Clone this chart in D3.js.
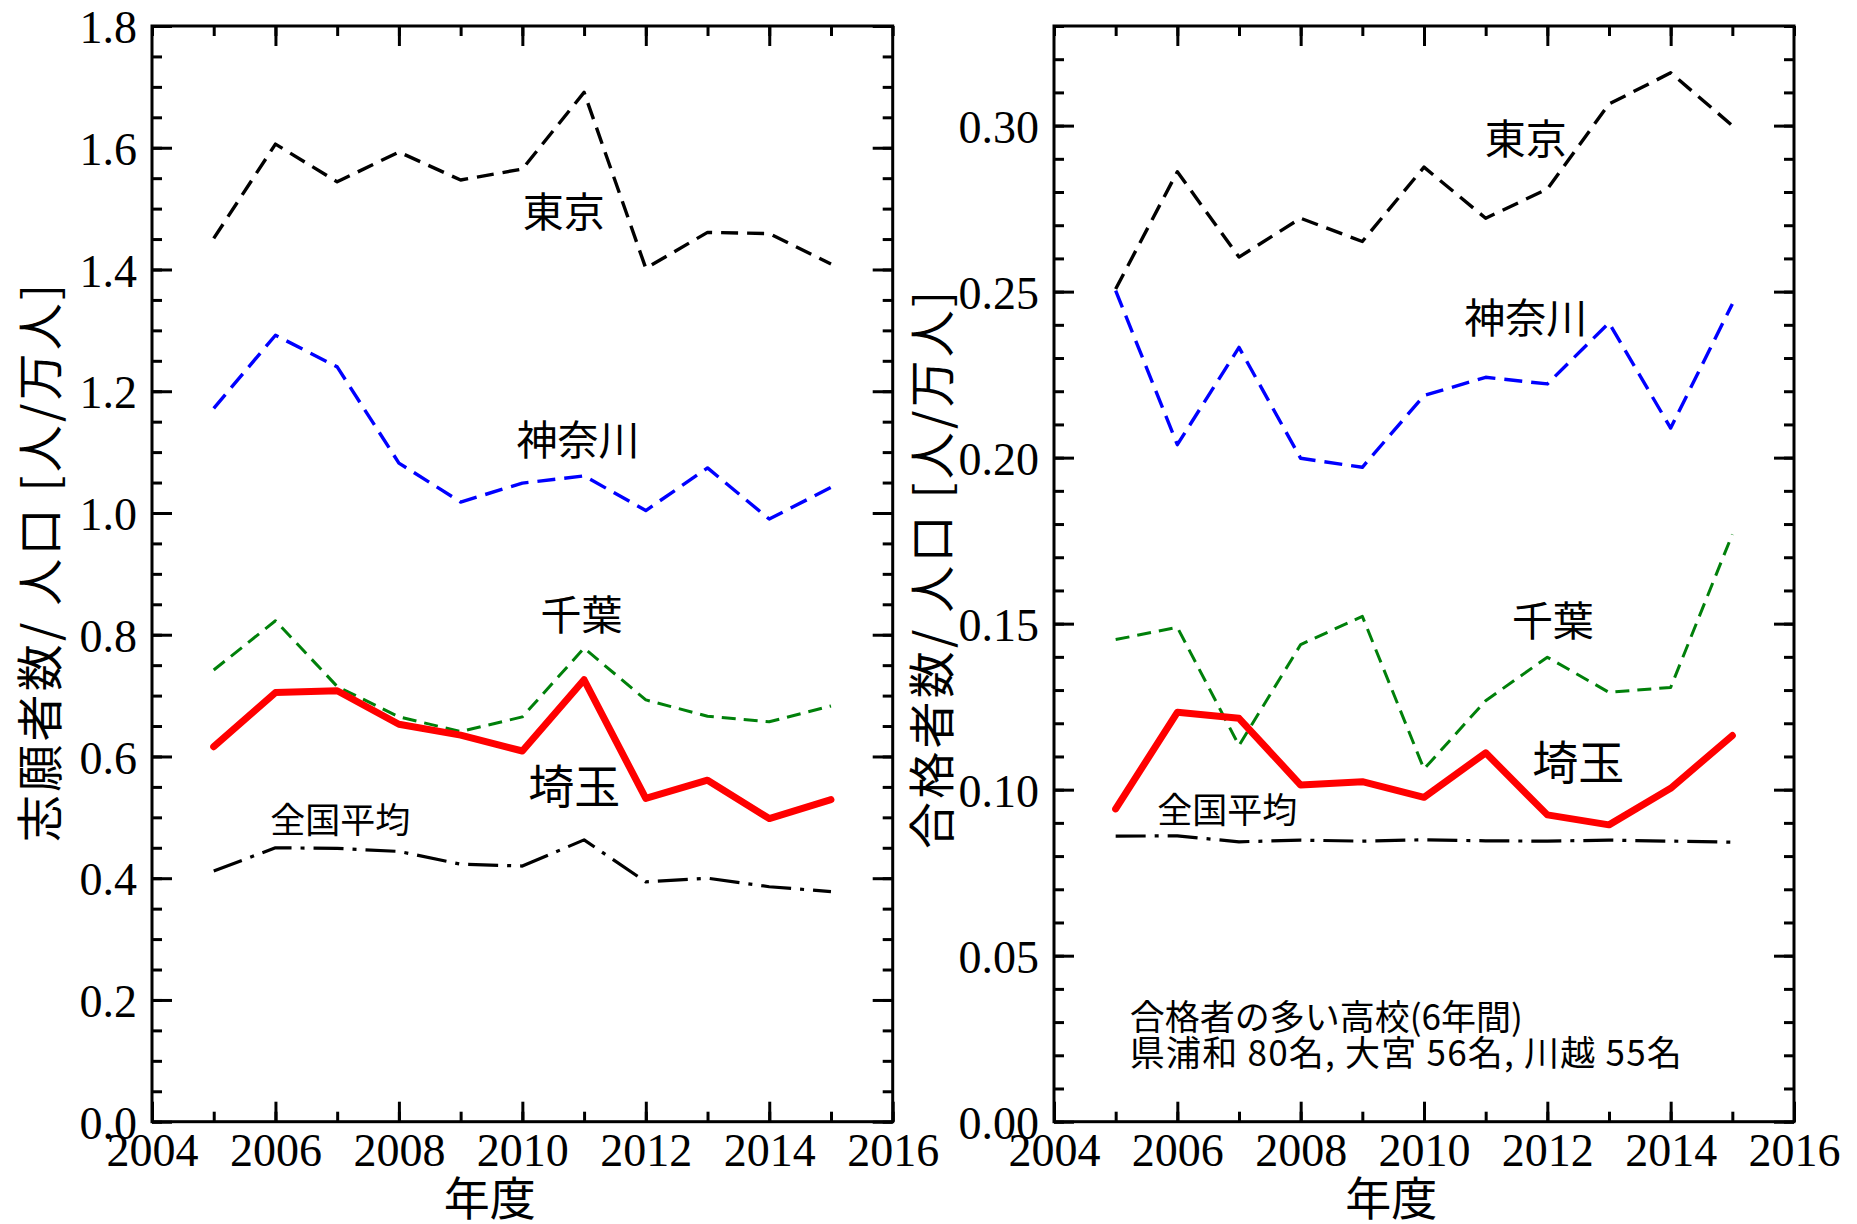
<!DOCTYPE html>
<html>
<head>
<meta charset="utf-8">
<script src="https://cdn.jsdelivr.net/npm/d3@7/dist/d3.min.js"></script>
<style>
body{margin:0;background:#fff;}
svg{display:block;}
</style>
</head>
<body>
<svg class="chart"></svg>
<script>
// years on the x axis
var years = [2005,2006,2007,2008,2009,2010,2011,2012,2013,2014,2015];

// left: applicants per 10,000 people
var appTokyo    = [1.451,1.606,1.544,1.593,1.547,1.565,1.691,1.402,1.461,1.459,1.409];
var appKanagawa = [1.172,1.292,1.240,1.082,1.018,1.049,1.061,1.004,1.074,0.990,1.042];
var appChiba    = [0.742,0.823,0.715,0.665,0.641,0.665,0.778,0.693,0.666,0.657,0.683];
var appSaitama  = [0.616,0.705,0.708,0.653,0.635,0.609,0.726,0.531,0.561,0.498,0.529];
var appNational = [0.412,0.450,0.449,0.444,0.423,0.420,0.463,0.394,0.400,0.386,0.378];

// right: successful applicants per 10,000 people
var passTokyo    = [0.2508,0.2861,0.2604,0.2721,0.2651,0.2875,0.2721,0.2809,0.3065,0.3159,0.3000];
var passKanagawa = [0.2503,0.2039,0.2332,0.1998,0.1971,0.2187,0.2242,0.2222,0.2406,0.2089,0.2463];
var passChiba    = [0.1452,0.1489,0.1133,0.1437,0.1522,0.1062,0.1268,0.1399,0.1293,0.1308,0.1769];
var passSaitama  = [0.0942,0.1233,0.1215,0.1014,0.1024,0.0977,0.1111,0.0924,0.0894,0.1004,0.1163];
var passNational = [0.0860,0.0861,0.0843,0.0848,0.0845,0.0849,0.0846,0.0845,0.0848,0.0845,0.0842];

var seriesNames = ["東京","神奈川","千葉","埼玉","全国平均"];
var xTicks = [2004,2006,2008,2010,2012,2014,2016];
var leftTicks = [0,0.2,0.4,0.6,0.8,1.0,1.2,1.4,1.6,1.8];
var rightTicks = [0,0.05,0.10,0.15,0.20,0.25,0.30];

// where each series name sits, in data units [year, value]
var leftLabelAt  = [[2010.67,1.470],[2010.90,1.095],[2010.96,0.808],[2010.84,0.524],[2007.05,0.474]];
var rightLabelAt = [[2011.65,0.2913],[2011.65,0.2376],[2012.09,0.1463],[2012.50,0.1032],[2006.81,0.0900]];

var noteLines = ["合格者の多い高校(6年間)","県浦和 80名, 大宮 56名, 川越 55名"];
var noteAt = [[2005.23,0.0276],[2005.23,0.0168]];

var styles = [
    {stroke:"#000",      width:3.4, dash:"17,9"},
    {stroke:"#0000ff",   width:3.4, dash:"18,9"},
    {stroke:"#00800a",   width:3,   dash:"14,8"},
    {stroke:"#ff0000",   width:7,   dash:null},
    {stroke:"#000",      width:3.2, dash:"30,9,4,9"}
];
var labelSizes = [41,41,41,46,35];

var W = 1857, H = 1224;
var svg = d3.select(".chart").attr("width",W).attr("height",H);

var serif = "'Liberation Serif','Times New Roman',serif";
var cjk = "'Noto Sans CJK JP','Noto Sans CJK SC',sans-serif";

function panel(opt){
    var g = svg.append("g");
    var x = d3.scaleLinear().domain([2004,2016]).range([opt.left,opt.right]);
    var y = d3.scaleLinear().domain([0,opt.ymax]).range([1121.7,26]);

    // minor ticks (no labels)
    var minorX = d3.range(2004,2017,1);
    var minorY = d3.range(0,opt.ymax+1e-9,opt.minor);
    function strip(sel){ sel.select(".domain").remove(); sel.selectAll("text").remove(); }

    g.append("g").attr("transform","translate(0,"+y(0)+")")
        .call(d3.axisBottom(x).tickValues(minorX).tickSize(-10)).call(strip);
    g.append("g").attr("transform","translate(0,"+y(opt.ymax)+")")
        .call(d3.axisTop(x).tickValues(minorX).tickSize(-10)).call(strip);
    g.append("g").attr("transform","translate("+opt.left+",0)")
        .call(d3.axisLeft(y).tickValues(minorY).tickSize(-10)).call(strip);
    g.append("g").attr("transform","translate("+opt.right+",0)")
        .call(d3.axisRight(y).tickValues(minorY).tickSize(-10)).call(strip);

    // major ticks
    g.append("g").attr("class","xax").attr("transform","translate(0,"+y(0)+")")
        .call(d3.axisBottom(x).tickValues(xTicks).tickSize(-20).tickPadding(12).tickFormat(d3.format("d")))
        .select(".domain").remove();
    g.append("g").attr("transform","translate(0,"+y(opt.ymax)+")")
        .call(d3.axisTop(x).tickValues(xTicks.slice(1,-1)).tickSize(-20)).call(strip);
    g.append("g").attr("class","yax").attr("transform","translate("+opt.left+",0)")
        .call(d3.axisLeft(y).tickValues(opt.ticks).tickSize(-20).tickPadding(15).tickFormat(d3.format(opt.fmt)))
        .select(".domain").remove();
    g.append("g").attr("transform","translate("+opt.right+",0)")
        .call(d3.axisRight(y).tickValues(opt.ticks).tickSize(-20)).call(strip);

    g.selectAll(".tick line").attr("stroke","#000").attr("stroke-width",3);
    g.selectAll(".xax text, .yax text")
        .attr("font-family",serif).attr("font-size","46px").attr("fill","#000");
    g.selectAll(".yax text").attr("dy","0.36em");

    // frame
    g.append("rect").attr("x",opt.left).attr("y",y(opt.ymax))
        .attr("width",opt.right-opt.left).attr("height",y(0)-y(opt.ymax))
        .attr("fill","none").attr("stroke","#000").attr("stroke-width",3);

    var line = d3.line().x(function(d,i){ return x(years[i]); }).y(function(d){ return y(d); });

    g.selectAll("path.series").data(opt.series).enter()
        .append("path").attr("class","series")
        .attr("d",line)
        .attr("fill","none")
        .attr("stroke",function(d,i){ return styles[i].stroke; })
        .attr("stroke-width",function(d,i){ return styles[i].width; })
        .attr("stroke-dasharray",function(d,i){ return styles[i].dash; })
        .attr("stroke-linecap",function(d,i){ return styles[i].dash ? "butt" : "round"; })
        .attr("stroke-linejoin","round");

    g.selectAll("text.name").data(seriesNames).enter()
        .append("text").attr("class","name")
        .attr("x",function(d,i){ return x(opt.labels[i][0]); })
        .attr("y",function(d,i){ return y(opt.labels[i][1]); })
        .attr("text-anchor","middle")
        .attr("font-family",cjk)
        .attr("font-size",function(d,i){ return labelSizes[i]+"px"; })
        .text(function(d){ return d; });

    // axis titles
    g.append("text")
        .attr("transform","translate("+opt.titleX+","+opt.titleY+") rotate(-90)")
        .attr("text-anchor","middle").attr("font-family",cjk).attr("font-size","47px")
        .attr("textLength",558).attr("lengthAdjust","spacing")
        .text(opt.title);
    g.append("text")
        .attr("x",x(opt.xTitleAt)).attr("y",1215)
        .attr("text-anchor","middle").attr("font-family",cjk).attr("font-size","46px")
        .text("年度");

    return {g:g,x:x,y:y};
}

panel({
    left:152, right:892.7, ymax:1.8, minor:0.05, ticks:leftTicks, fmt:".1f",
    series:[appTokyo,appKanagawa,appChiba,appSaitama,appNational],
    labels:leftLabelAt, title:"志願者数/ 人口 [人/万人]", titleX:57, titleY:563, xTitleAt:2009.47
});

var right = panel({
    left:1054, right:1794, ymax:0.33, minor:0.01, ticks:rightTicks, fmt:".2f",
    series:[passTokyo,passKanagawa,passChiba,passSaitama,passNational],
    labels:rightLabelAt, title:"合格者数/ 人口 [人/万人]", titleX:949, titleY:570, xTitleAt:2009.47
});

var noteLen = [393,552];
right.g.selectAll("text.note").data(noteLines).enter()
    .append("text").attr("class","note")
    .attr("x",function(d,i){ return right.x(noteAt[i][0]); })
    .attr("y",function(d,i){ return right.y(noteAt[i][1]); })
    .attr("font-family",cjk).attr("font-size","35px")
    .attr("textLength",function(d,i){ return noteLen[i]; })
    .attr("lengthAdjust","spacing")
    .text(function(d){ return d; });
</script>
</body>
</html>
